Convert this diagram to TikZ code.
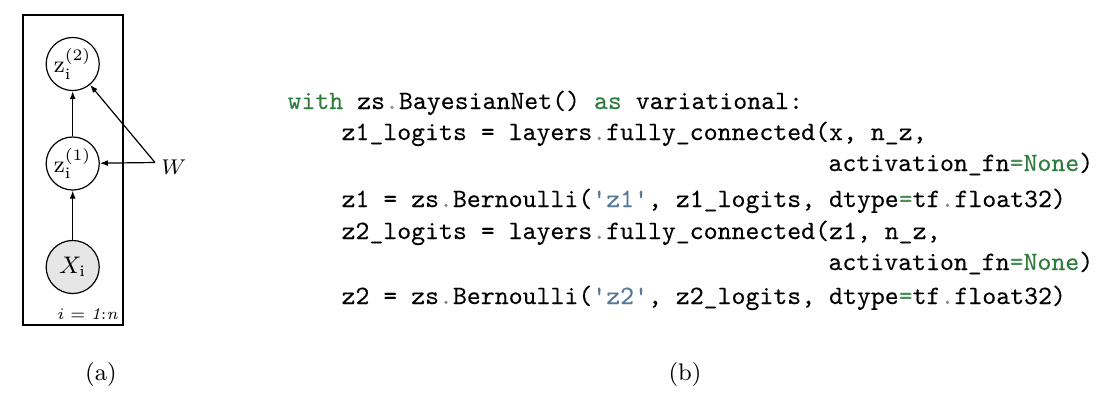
\documentclass[tikz,border=0pt]{standalone}
\usepackage{fontspec}
\usetikzlibrary{arrows.meta}
\newfontfamily\codefont{Latin Modern Mono}[BoldFont={Latin Modern Mono},BoldFeatures={FakeBold=0.15}]
\definecolor{kwgreen}{HTML}{2E7D3E}
\definecolor{strblue}{HTML}{56799A}
\definecolor{opgray}{HTML}{8A8A8A}
\definecolor{eqgreen}{HTML}{4C8F5A}
\definecolor{obsfill}{HTML}{E6E6E6}
\newcommand{\kw}[1]{\textcolor{kwgreen}{#1}}
\newcommand{\st}[1]{\textcolor{strblue}{#1}}
\newcommand{\dt}{\textcolor{opgray}{.}}
\newcommand{\eqk}{\textcolor{eqgreen}{=}}
\newcommand{\qs}{\textquotesingle}
\begin{document}
\begin{tikzpicture}[x=0.375pt,y=-0.375pt,
  varnode/.style={draw,circle,line width=0.45pt,minimum size=19.9pt,inner sep=0pt,font=\fontsize{9}{10}\selectfont},
  obsnode/.style={varnode,fill=obsfill},
  edge/.style={line width=0.45pt,-{Latex[length=3pt,width=2.2pt]}},
  plate/.style={draw,line width=0.45pt},
  codeline/.style={anchor=base west,inner sep=0pt,font=\fontsize{9.95}{12}\selectfont\codefont\bfseries},
  caption/.style={inner sep=0pt,font=\fontsize{9}{11}\selectfont}]
\useasboundingbox (0,0) rectangle (1120,402);
% plate
\draw[plate] (23,15) rectangle (123,325);
\node[inner sep=0pt,anchor=base east,font=\fontsize{6.2}{7}\selectfont] (plab) at (118,319) {$i = \mathit{1{:}n}$};
% nodes
\node[varnode] (z2) at (72.7,64) {$\mathrm{z}_{\mathrm{i}}^{(2)}$};
\node[varnode] (z1) at (72.7,163.5) {$\mathrm{z}_{\mathrm{i}}^{(1)}$};
\node[obsnode] (x) at (72.7,267) {$X_{\mathrm{i}}$};
\node[inner sep=0pt,font=\fontsize{8}{9}\selectfont] (W) at (174,167) {$W$};
\coordinate (wj) at (155,162.5);
% edges
\draw[edge] (x) -- (z1);
\draw[edge] (z1) -- (z2);
\draw[edge] (wj) -- (z1);
\draw[edge] (wj) -- (z2);
% captions
\node[caption] (capa) at (101,374) {(a)};
\node[caption] (capb) at (685,374) {(b)};
% code
\node[codeline] (c1) at (287,109) {\kw{with} zs\dt BayesianNet() \kw{as} variational:};
\node[codeline] (c2) at (341,140) {z1\_logits = layers\dt fully\_connected(x, n\_z,};
\node[codeline] (c3) at (828,171) {activation\_fn\eqk\kw{None})};
\node[codeline] (c4) at (341,207) {z1 = zs\dt Bernoulli(\st{\qs z1\qs}, z1\_logits, dtype\eqk tf\dt float32)};
\node[codeline] (c5) at (341,239) {z2\_logits = layers\dt fully\_connected(z1, n\_z,};
\node[codeline] (c6) at (828,270) {activation\_fn\eqk\kw{None})};
\node[codeline] (c7) at (341,304) {z2 = zs\dt Bernoulli(\st{\qs z2\qs}, z2\_logits, dtype\eqk tf\dt float32)};
\end{tikzpicture}
\end{document}
